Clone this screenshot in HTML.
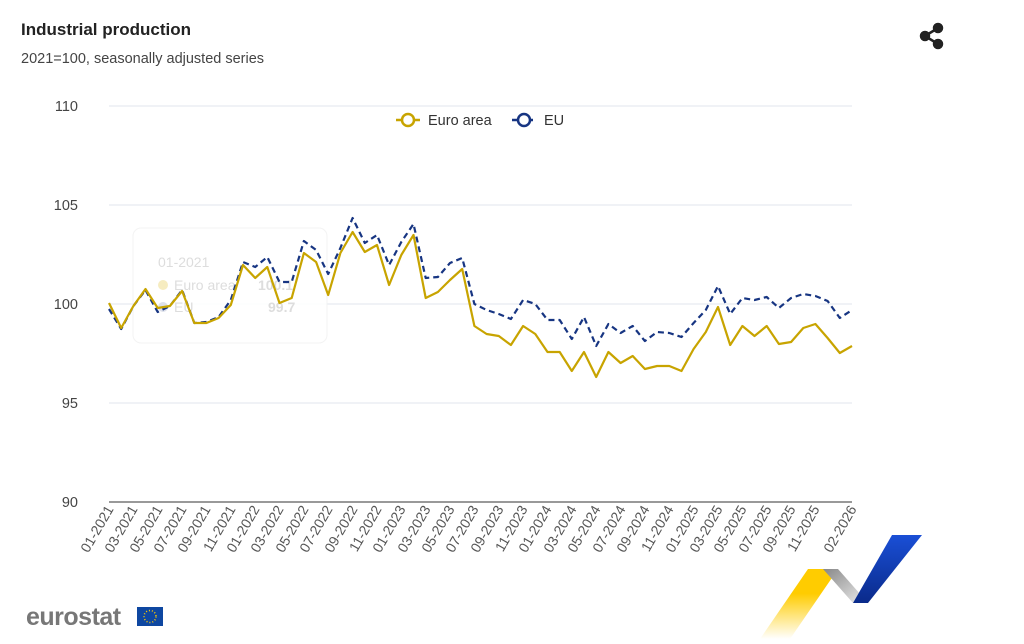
<!DOCTYPE html>
<html><head><meta charset="utf-8"><style>
body{margin:0;background:#fff;width:1024px;height:639px;overflow:hidden;font-family:"Liberation Sans",sans-serif;}
</style></head><body>
<svg width="1024" height="639" viewBox="0 0 1024 639" xmlns="http://www.w3.org/2000/svg" font-family="Liberation Sans, sans-serif">
<defs>
<linearGradient id="yg" x1="0" y1="0" x2="0" y2="1"><stop offset="0.35" stop-color="#ffcc00"/><stop offset="1" stop-color="#ffcc00" stop-opacity="0"/></linearGradient>
<linearGradient id="gg" x1="0" y1="0" x2="1" y2="1"><stop offset="0" stop-color="#888"/><stop offset="1" stop-color="#eee"/></linearGradient>
<linearGradient id="bg" x1="0" y1="0" x2="0" y2="1"><stop offset="0" stop-color="#1a4fd6"/><stop offset="1" stop-color="#0a2a8a"/></linearGradient>
</defs>
<text x="21" y="35" font-size="17" font-weight="bold" fill="#222">Industrial production</text>
<text x="21" y="63" font-size="14.5" fill="#444">2021=100, seasonally adjusted series</text>
<g fill="#222" stroke="#222" stroke-width="2.5"><line x1="925" y1="36" x2="938" y2="28"/><line x1="925" y1="36" x2="938" y2="44"/><circle cx="925" cy="36" r="4"/><circle cx="938" cy="28" r="4"/><circle cx="938" cy="44" r="4"/></g>
<g stroke="#e0e4ec" stroke-width="1">
<line x1="109" y1="106" x2="852" y2="106"/><line x1="109" y1="205" x2="852" y2="205"/><line x1="109" y1="304" x2="852" y2="304"/><line x1="109" y1="403" x2="852" y2="403"/>
</g>
<line x1="109" y1="502" x2="852" y2="502" stroke="#333" stroke-width="1"/>
<g font-size="14.5" fill="#444" text-anchor="end">
<text x="78" y="111">110</text><text x="78" y="210">105</text><text x="78" y="309">100</text><text x="78" y="408">95</text><text x="78" y="507">90</text>
</g>
<rect x="133" y="228" width="194" height="115" rx="8" fill="#fff" stroke="#f2f2f2" opacity="0.9"/>
<g fill="#ddd" font-size="14"><text x="158" y="267">01-2021</text><circle cx="163" cy="285" r="5" fill="#f6ecc0"/><text x="174" y="290">Euro area</text><text x="258" y="290" font-weight="bold">100.1</text><circle cx="163" cy="307" r="5" fill="#dde0ea"/><text x="174" y="312">EU</text><text x="268" y="312" font-weight="bold">99.7</text></g>
<line x1="396" y1="120" x2="420" y2="120" stroke="#c8a400" stroke-width="2.5"/><circle cx="408" cy="120" r="6" fill="#fff" stroke="#c8a400" stroke-width="2.5"/>
<text x="428" y="125" font-size="14.5" fill="#333">Euro area</text>
<line x1="512" y1="120" x2="536" y2="120" stroke="#173582" stroke-width="2.5" stroke-dasharray="5,3"/><circle cx="524" cy="120" r="6" fill="#fff" stroke="#173582" stroke-width="2.5"/>
<text x="544" y="125" font-size="14.5" fill="#333">EU</text>
<polyline fill="none" stroke="#173582" stroke-width="2.2" stroke-dasharray="6,4" stroke-linejoin="round" points="109,309 121.2,329 133.4,306 145.5,290 157.7,312 169.9,306 182.1,290 194.3,323 206.4,322 218.6,317 230.8,300 243,262 255.2,267 267.3,257 279.5,282 291.7,282 303.9,241 316.1,250 328.2,274 340.4,248 352.6,218 364.8,243 377,235 389.1,265 401.3,242 413.5,224 425.7,278 437.9,277 450,263 462.2,258 474.4,304 486.6,310 498.8,314 510.9,319 523.1,300 535.3,304 547.5,320 559.7,320 571.8,339 584,317 596.2,346 608.4,324 620.6,333 632.7,326 644.9,341 657.1,332 669.3,333 681.5,337 693.6,323 705.8,310 718,286 730.2,314 742.4,298 754.5,300 766.7,297 778.9,308 791.1,298 803.3,294 815.4,296 827.6,301 839.8,318 852,310"/>
<polyline fill="none" stroke="#c8a400" stroke-width="2.2" stroke-linejoin="round" points="109,303 121.2,328 133.4,306 145.5,289 157.7,308 169.9,306 182.1,291 194.3,323 206.4,323 218.6,318 230.8,305 243,265 255.2,278 267.3,267 279.5,303 291.7,298 303.9,253 316.1,262 328.2,295 340.4,253 352.6,232 364.8,252 377,245 389.1,285 401.3,255 413.5,235 425.7,298 437.9,292 450,280 462.2,269 474.4,326 486.6,334 498.8,336 510.9,345 523.1,326 535.3,334 547.5,352 559.7,352 571.8,371 584,352 596.2,377 608.4,352 620.6,363 632.7,356 644.9,369 657.1,366 669.3,366 681.5,371 693.6,349 705.8,332 718,307 730.2,345 742.4,326 754.5,336 766.7,326 778.9,344 791.1,342 803.3,328 815.4,324 827.6,338 839.8,353 852,346"/>
<g font-size="14" fill="#555" text-anchor="end">
<text transform="translate(114,509) rotate(-60)">01-2021</text>
<text transform="translate(138,509) rotate(-60)">03-2021</text>
<text transform="translate(163,509) rotate(-60)">05-2021</text>
<text transform="translate(187,509) rotate(-60)">07-2021</text>
<text transform="translate(211,509) rotate(-60)">09-2021</text>
<text transform="translate(236,509) rotate(-60)">11-2021</text>
<text transform="translate(260,509) rotate(-60)">01-2022</text>
<text transform="translate(284,509) rotate(-60)">03-2022</text>
<text transform="translate(309,509) rotate(-60)">05-2022</text>
<text transform="translate(333,509) rotate(-60)">07-2022</text>
<text transform="translate(358,509) rotate(-60)">09-2022</text>
<text transform="translate(382,509) rotate(-60)">11-2022</text>
<text transform="translate(406,509) rotate(-60)">01-2023</text>
<text transform="translate(431,509) rotate(-60)">03-2023</text>
<text transform="translate(455,509) rotate(-60)">05-2023</text>
<text transform="translate(479,509) rotate(-60)">07-2023</text>
<text transform="translate(504,509) rotate(-60)">09-2023</text>
<text transform="translate(528,509) rotate(-60)">11-2023</text>
<text transform="translate(552,509) rotate(-60)">01-2024</text>
<text transform="translate(577,509) rotate(-60)">03-2024</text>
<text transform="translate(601,509) rotate(-60)">05-2024</text>
<text transform="translate(626,509) rotate(-60)">07-2024</text>
<text transform="translate(650,509) rotate(-60)">09-2024</text>
<text transform="translate(674,509) rotate(-60)">11-2024</text>
<text transform="translate(699,509) rotate(-60)">01-2025</text>
<text transform="translate(723,509) rotate(-60)">03-2025</text>
<text transform="translate(747,509) rotate(-60)">05-2025</text>
<text transform="translate(772,509) rotate(-60)">07-2025</text>
<text transform="translate(796,509) rotate(-60)">09-2025</text>
<text transform="translate(820,509) rotate(-60)">11-2025</text>
<text transform="translate(857,509) rotate(-60)">02-2026</text>
</g>
<text x="26" y="625" font-size="25" font-weight="bold" fill="#777" letter-spacing="-0.5">eurostat</text>
<rect x="137" y="607" width="26" height="19" fill="#0e47a1"/>
<circle cx="150" cy="616.5" r="6" fill="none" stroke="#ffcc00" stroke-width="1.5" stroke-dasharray="1,2"/>
<polygon points="808,569 838,569 790,639 760,639" fill="url(#yg)"/>
<polygon points="823,569 838,569 868,603 853,603" fill="url(#gg)"/>
<polygon points="892,535 922,535 868,603 853,603" fill="url(#bg)"/>
</svg>
</body></html>
